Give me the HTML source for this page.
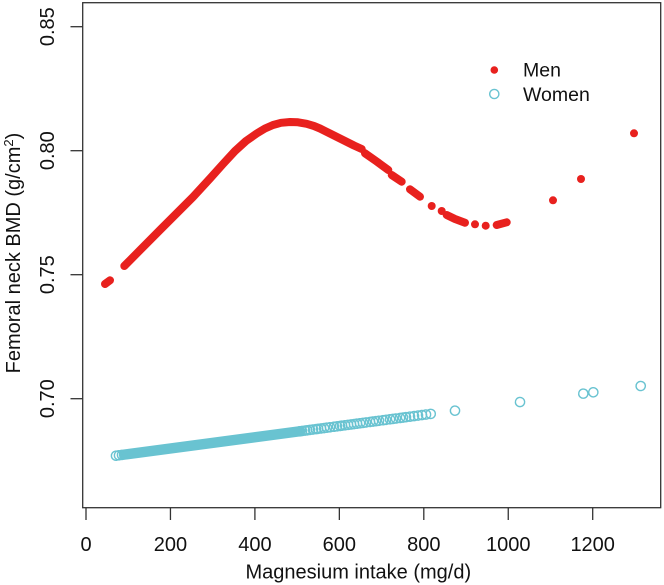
<!DOCTYPE html>
<html>
<head>
<meta charset="utf-8">
<style>
html,body{margin:0;padding:0;background:#fff;}
svg{display:block;}
text{font-family:"Liberation Sans",Arial,sans-serif;fill:#111;}
</style>
</head>
<body>
<svg width="664" height="585" viewBox="0 0 664 585" xmlns="http://www.w3.org/2000/svg">
<rect x="0" y="0" width="664" height="585" fill="#fff"/>
<!-- plot box -->
<rect x="82.7" y="2.7" width="578" height="505" fill="none" stroke="#333" stroke-width="1.3"/>
<!-- y ticks -->
<g stroke="#333" stroke-width="1.3">
<line x1="70.5" y1="398.7" x2="82.7" y2="398.7"/>
<line x1="70.5" y1="274.7" x2="82.7" y2="274.7"/>
<line x1="70.5" y1="150.7" x2="82.7" y2="150.7"/>
<line x1="70.5" y1="26.7" x2="82.7" y2="26.7"/>
</g>
<g font-size="20" text-anchor="middle">
<text transform="translate(54,398.7) rotate(-90)">0.70</text>
<text transform="translate(54,274.7) rotate(-90)">0.75</text>
<text transform="translate(54,150.7) rotate(-90)">0.80</text>
<text transform="translate(54,26.7) rotate(-90)">0.85</text>
</g>
<!-- x ticks -->
<g stroke="#333" stroke-width="1.3">
<line x1="86" y1="507.7" x2="86" y2="520"/>
<line x1="170.45" y1="507.7" x2="170.45" y2="520"/>
<line x1="254.9" y1="507.7" x2="254.9" y2="520"/>
<line x1="339.35" y1="507.7" x2="339.35" y2="520"/>
<line x1="423.8" y1="507.7" x2="423.8" y2="520"/>
<line x1="508.25" y1="507.7" x2="508.25" y2="520"/>
<line x1="592.7" y1="507.7" x2="592.7" y2="520"/>
</g>
<g font-size="20" text-anchor="middle">
<text x="86" y="551">0</text>
<text x="170.45" y="551">200</text>
<text x="254.9" y="551">400</text>
<text x="339.35" y="551">600</text>
<text x="423.8" y="551">800</text>
<text x="508.25" y="551">1000</text>
<text x="592.7" y="551">1200</text>
</g>
<!-- axis titles -->
<text x="358.3" y="578.3" font-size="20" text-anchor="middle">Magnesium intake (mg/d)</text>
<text transform="translate(20,253) rotate(-90)" font-size="20" text-anchor="middle">Femoral neck BMD (g/cm<tspan font-size="13" dy="-7">2</tspan><tspan dy="7">)</tspan></text>

<!-- Women series -->
<g transform="translate(116,455.7) rotate(-7.567) scale(1.0088,1)" stroke="#69C3D1" fill="none" stroke-width="1.4">
<line x1="8" y1="0" x2="184" y2="0" stroke-width="10.4" stroke-linecap="round"/>
<circle cx="0" cy="0" r="4.6"/>
<circle cx="3" cy="0" r="4.6"/>
<circle cx="6" cy="0" r="4.6"/>
<circle cx="184" cy="0" r="4.6"/><circle cx="186" cy="0" r="4.6"/><circle cx="189" cy="0" r="4.6"/>
<circle cx="191" cy="0" r="4.6"/><circle cx="194" cy="0" r="4.6"/><circle cx="197" cy="0" r="4.6"/>
<circle cx="200" cy="0" r="4.6"/><circle cx="202" cy="0" r="4.6"/><circle cx="205" cy="0" r="4.6"/>
<circle cx="208" cy="0" r="4.6"/><circle cx="211" cy="0" r="4.6"/><circle cx="214" cy="0" r="4.6"/>
<circle cx="218" cy="0" r="4.6"/><circle cx="221" cy="0" r="4.6"/><circle cx="224" cy="0" r="4.6"/>
<circle cx="226" cy="0" r="4.6"/><circle cx="229" cy="0" r="4.6"/><circle cx="232" cy="0" r="4.6"/>
<circle cx="235" cy="0" r="4.6"/><circle cx="238" cy="0" r="4.6"/><circle cx="241" cy="0" r="4.6"/>
<circle cx="244" cy="0" r="4.6"/><circle cx="247" cy="0" r="4.6"/><circle cx="250" cy="0" r="4.6"/>
<circle cx="254" cy="0" r="4.6"/><circle cx="257" cy="0" r="4.6"/><circle cx="260" cy="0" r="4.6"/>
<circle cx="263" cy="0" r="4.6"/><circle cx="267" cy="0" r="4.6"/><circle cx="270" cy="0" r="4.6"/>
<circle cx="274" cy="0" r="4.6"/><circle cx="277" cy="0" r="4.6"/><circle cx="280" cy="0" r="4.6"/>
<circle cx="284" cy="0" r="4.6"/><circle cx="287" cy="0" r="4.6"/><circle cx="290" cy="0" r="4.6"/>
<circle cx="294" cy="0" r="4.6"/><circle cx="298" cy="0" r="4.6"/><circle cx="302" cy="0" r="4.6"/>
<circle cx="306" cy="0" r="4.6"/><circle cx="310" cy="0" r="4.6"/><circle cx="314.7" cy="0" r="4.6"/>
<circle cx="339" cy="0" r="4.6"/>
<circle cx="404" cy="0" r="4.6"/>
<circle cx="467.3" cy="0" r="4.6"/>
<circle cx="477.3" cy="0" r="4.6"/>
<circle cx="524.7" cy="0" r="4.6"/>
</g>

<!-- Men series -->
<g stroke="#E8211E" fill="none" stroke-width="8" stroke-linecap="round" stroke-linejoin="round">
<polyline points="105,284 110,280.3"/>
<polyline points="124.3,266 160,230 193,197 210,178.5 223,164 235,151 246,141 256.7,133.5 265,128.5 273,125 281,122.8 290,122 298,122.3 306.7,123.8 314,126 320,128.5 330,133.5 338,137.5 346,141.5 354,145.5 361.7,149"/>
<polyline points="365,153.3 376,161 388.3,170"/>
<polyline points="391.7,175 401.7,181.7"/>
<polyline points="410,189.3 420,196.7"/>
<polyline points="446.7,215 455,219 465,222.7"/>
<polyline points="496.7,225 506.7,222.3"/>
</g>
<g fill="#E8211E">
<circle cx="431.7" cy="206" r="4"/>
<circle cx="441.7" cy="211" r="4"/>
<circle cx="475" cy="224.3" r="4"/>
<circle cx="485.7" cy="225.7" r="4"/>
<circle cx="553" cy="200.3" r="4"/>
<circle cx="581" cy="179" r="4"/>
<circle cx="634" cy="133.3" r="4"/>
</g>

<!-- legend -->
<circle cx="494.3" cy="70" r="3.8" fill="#E8211E"/>
<circle cx="494.3" cy="94" r="4.6" fill="none" stroke="#69C3D1" stroke-width="1.4"/>
<text x="523" y="76.7" font-size="19.5">Men</text>
<text x="523" y="101.2" font-size="19.5">Women</text>
</svg>
</body>
</html>
